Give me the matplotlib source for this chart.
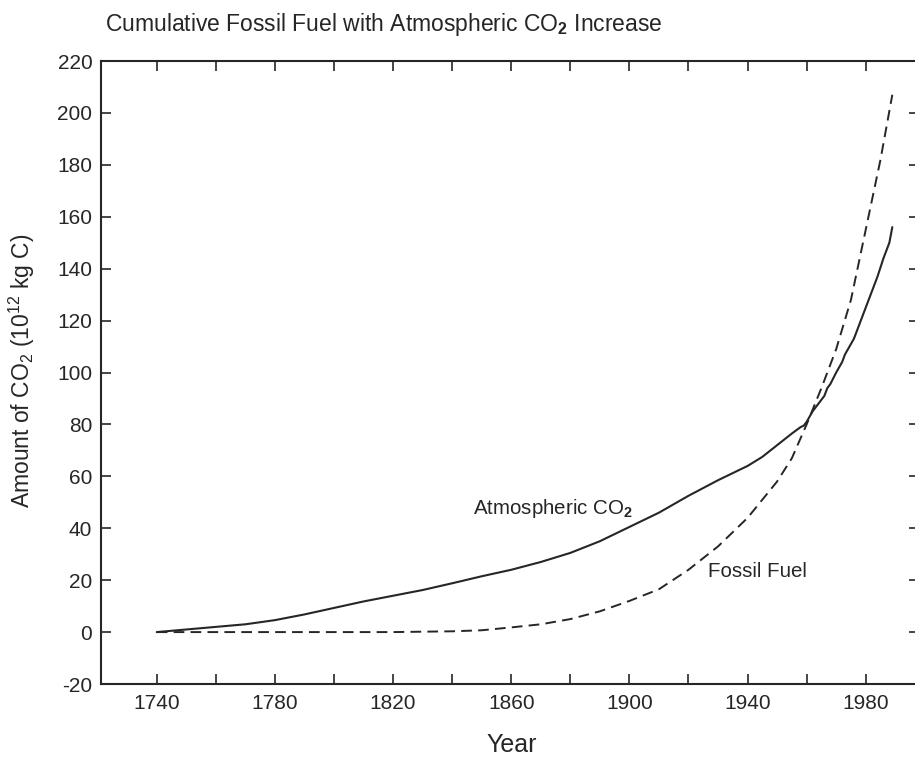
import matplotlib
matplotlib.use("Agg")
import matplotlib.pyplot as plt
from matplotlib import font_manager

# ---------------- data ----------------
co2_years = [1740, 1750, 1760, 1770, 1780, 1790, 1800, 1810, 1820, 1830, 1840,
             1850, 1860, 1870, 1880, 1890, 1900, 1910, 1920, 1930, 1940, 1945,
             1950, 1955, 1958, 1959, 1960, 1962, 1964, 1966, 1967, 1968, 1970,
             1972, 1973, 1974, 1976, 1978, 1980, 1982, 1984, 1986, 1988, 1989]
co2_values = [0, 1, 2, 3, 4.6, 6.8, 9.3, 11.8, 14, 16.2, 18.8,
              21.5, 24, 27, 30.5, 35, 40.5, 46, 52.5, 58.5, 64, 67.5,
              72, 76.5, 79, 79.5, 81, 85, 88, 91, 94, 95.5, 100,
              104, 107, 109, 113, 119, 125, 131, 137, 144, 150, 156]

fuel_years = [1740, 1760, 1780, 1800, 1820, 1840, 1850, 1860, 1870, 1880, 1890,
              1900, 1910, 1920, 1930, 1940, 1950, 1955, 1960, 1965, 1970, 1975,
              1980, 1985, 1989]
fuel_values = [0, 0, 0, 0, 0, 0.3, 0.7, 1.8, 3, 5, 8,
               12, 16.5, 24, 33, 44, 58, 67, 80, 94, 109, 128,
               155, 182, 207]

x_ticks = [1740, 1760, 1780, 1800, 1820, 1840, 1860, 1880, 1900, 1920, 1940, 1960, 1980]
x_labels = ["1740", "", "1780", "", "1820", "", "1860", "", "1900", "", "1940", "", "1980"]
y_ticks = [-20, 0, 20, 40, 60, 80, 100, 120, 140, 160, 180, 200, 220]

title = r"Cumulative Fossil Fuel with Atmospheric CO$_\mathbf{2}$ Increase"
ylabel = r"Amount of CO$_2$ (10$^{12}$ kg C)"
xlabel = "Year"
label_co2 = r"Atmospheric CO$_\mathbf{2}$"
label_fuel = "Fossil Fuel"

# ---------------- fonts ----------------
names = {f.name for f in font_manager.fontManager.ttflist}
font = "Liberation Sans" if "Liberation Sans" in names else "DejaVu Sans"
plt.rcParams["font.family"] = [font, "DejaVu Sans"]
plt.rcParams["mathtext.fontset"] = "custom"
plt.rcParams["mathtext.rm"] = font
plt.rcParams["mathtext.bf"] = font + ":bold"
plt.rcParams["mathtext.it"] = font
plt.rcParams["axes.unicode_minus"] = False

ink = "#262626"
W, H = 915, 759
fig = plt.figure(figsize=(W / 100, H / 100), dpi=100)
fig.patch.set_facecolor("white")

left_px, right_px, top_px, bot_px = 100.6, 918.9, 61, 684
ax = fig.add_axes([left_px / W, 1 - bot_px / H, (right_px - left_px) / W, (bot_px - top_px) / H])

ax.plot(co2_years, co2_values, color=ink, lw=1.5, solid_capstyle="round")
ax.plot(fuel_years, fuel_values, color=ink, lw=1.4, dashes=(5.5, 3.2))

ax.set_xlim(1721, 1998)
ax.set_ylim(-20, 220)
ax.set_xticks(x_ticks)
ax.set_xticklabels(x_labels)
ax.set_yticks(y_ticks)
ax.tick_params(direction="in", length=7.5, width=1.2, color=ink, labelcolor=ink,
               labelsize=15, top=True, right=True, pad=7)
ax.tick_params(axis="y", pad=6)
for s in ax.spines.values():
    s.set_linewidth(1.5)
    s.set_color(ink)

ax.text(1847, 45.4, label_co2, fontsize=14.8, color=ink, va="baseline", ha="left")
ax.text(1926.7, 21.2, label_fuel, fontsize=14.8, color=ink, va="baseline", ha="left")

fig.text(105 / W, 1 - 31 / H, title, fontsize=16.5, color=ink, va="baseline", ha="left")
fig.text(22 / W, 1 - 371 / H, ylabel, fontsize=16.5, color=ink, rotation=90,
         va="center", ha="center")
fig.text(512 / W, 1 - 752 / H, xlabel, fontsize=18, color=ink, va="baseline", ha="center")

fig.savefig("out.png", dpi=100, facecolor="white")
